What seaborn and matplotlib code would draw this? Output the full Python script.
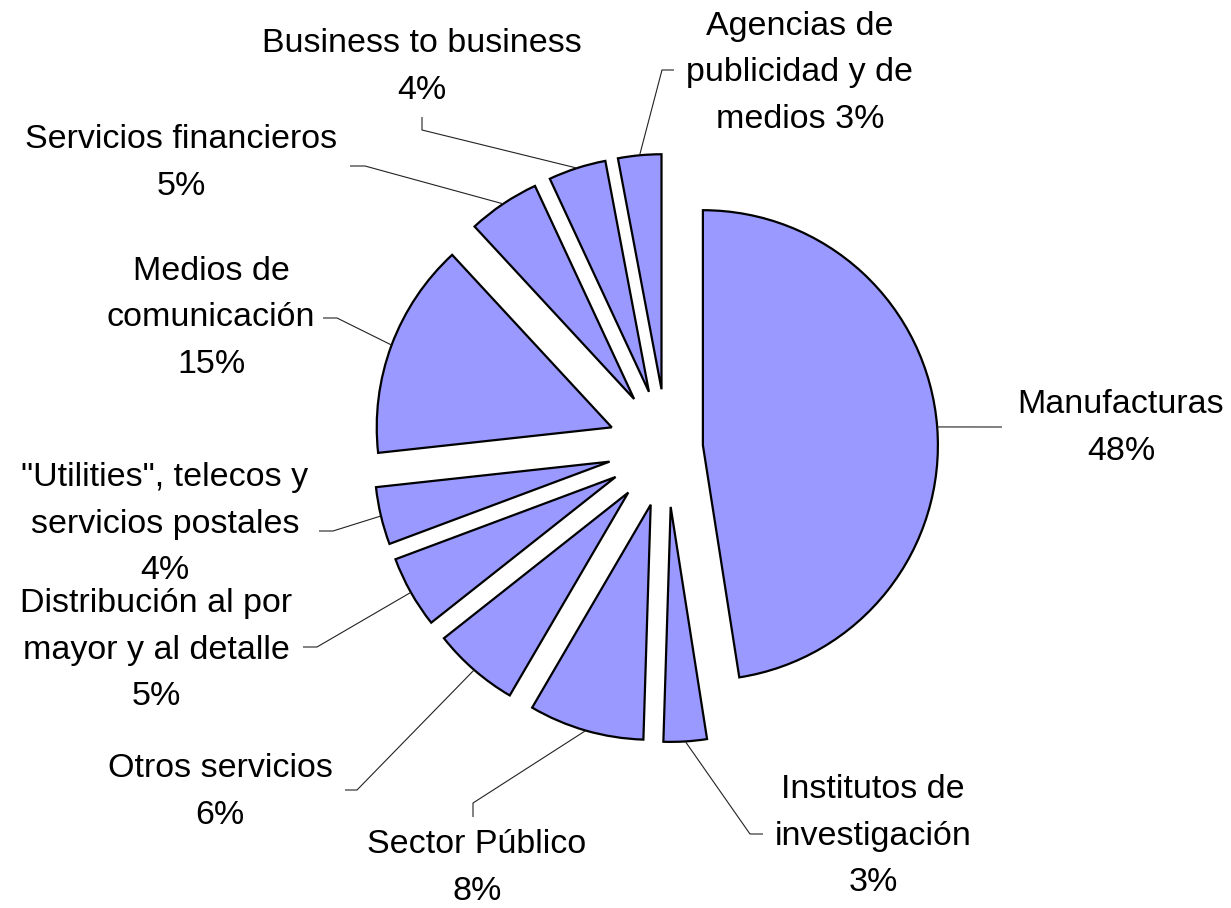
import numpy as np
import matplotlib
matplotlib.use("Agg")
import matplotlib.pyplot as plt
import seaborn as sns

# ── Style ─────────────────────────────────────────────────
sns.set_theme(style="white")
plt.rcParams["font.family"] = ["Liberation Sans", "DejaVu Sans"]

FILL = "#9999FF"
EDGE = "black"
FONT_SIZE = 24.5

# ── Data ──────────────────────────────────────────────────
sectors = [
    "Manufacturas",
    "Institutos de\ninvestigación",
    "Sector Público",
    "Otros servicios",
    "Distribución al por\nmayor y al detalle",
    "\"Utilities\", telecos y\nservicios postales",
    "Medios de\ncomunicación",
    "Servicios financieros",
    "Business to business",
    "Agencias de\npublicidad y de\nmedios",
]
shares = [48, 3, 8, 6, 5, 4, 15, 5, 4, 3]

# ── Layout (pixel coords, y measured from the top) ────────
W, H = 1231, 908
PIE_CENTER = (667, 448)
PIE_RADIUS = 235
explode_px = [36, 59, 59, 59, 59, 59, 59, 59, 59, 59]
pct_sep = ["\n"] * 9 + [" "]
label_xy = [(1121, 428), (873, 836), (477, 868), (220, 792), (156, 650),
            (165, 524), (211, 318), (181, 163), (422, 67), (800, 73)]
leader_path = [
    [(1002, 427)],
    [(750, 834), (763, 834)],
    [(473, 803), (473, 817)],
    [(357, 790), (345, 790)],
    [(317, 647), (303, 647)],
    [(333, 531), (319, 531)],
    [(337, 318), (323, 318)],
    [(365, 166), (350, 166)],
    [(422, 130), (422, 117)],
    [(662, 70), (674, 70)],
]


def to_data(pt):
    return pt[0], H - pt[1]


# ── Plot ──────────────────────────────────────────────────
fig = plt.figure(figsize=(W / 100, H / 100), dpi=100)
ax = fig.add_axes([0, 0, 1, 1])

wedges, _ = ax.pie(
    shares,
    explode=explode_px,
    radius=PIE_RADIUS,
    center=to_data(PIE_CENTER),
    startangle=90,
    counterclock=False,
    colors=[FILL] * len(shares),
    wedgeprops={"edgecolor": EDGE, "linewidth": 1.6},
)
ax.set_xlim(0, W)
ax.set_ylim(0, H)
ax.set_aspect("equal")
ax.axis("off")

# leader lines + labels
for w, name, share, sep, xy, path in zip(wedges, sectors, shares, pct_sep,
                                         label_xy, leader_path):
    mid = np.deg2rad((w.theta1 + w.theta2) / 2)
    sx = w.center[0] + w.r * np.cos(mid)
    sy = w.center[1] + w.r * np.sin(mid)
    pts = [(sx, sy)] + [to_data(p) for p in path]
    xs, ys = zip(*pts)
    ax.plot(xs, ys, color="#222222", lw=0.8, solid_capstyle="butt")
    tx, ty = to_data(xy)
    ax.text(tx, ty, f"{name}{sep}{share}%", ha="center", va="center",
            fontsize=FONT_SIZE, linespacing=1.65, color="black")

fig.savefig("out.png", dpi=100)
